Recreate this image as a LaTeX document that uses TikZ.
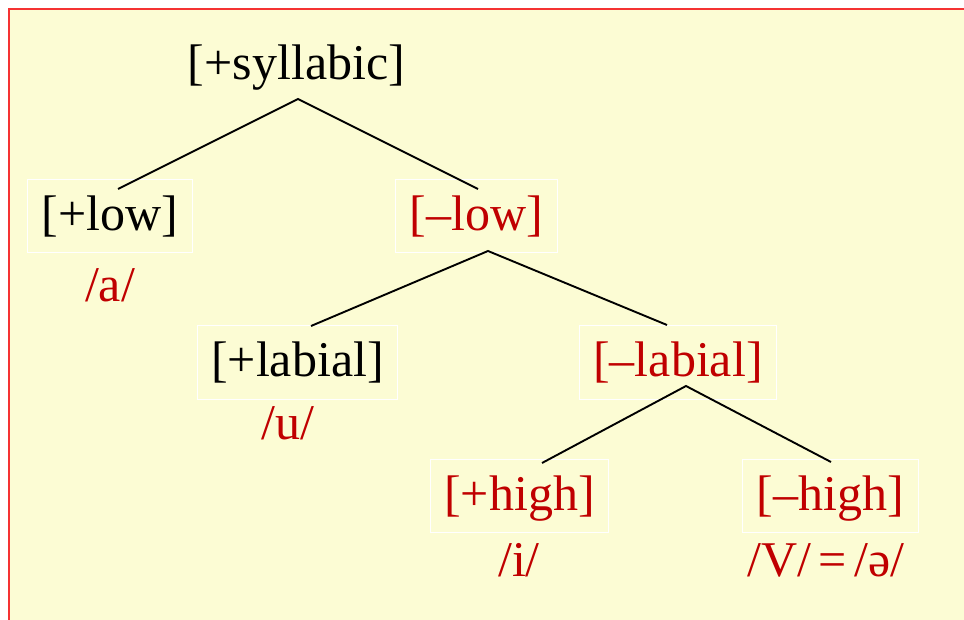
\documentclass[tikz,border=0pt]{standalone}
\usepackage{fontspec}
\setmainfont{Liberation Serif}
\definecolor{bgyellow}{HTML}{FCFCD4}
\definecolor{framered}{HTML}{F53333}
\definecolor{txtred}{HTML}{C00000}
\begin{document}
\begin{tikzpicture}[x=1pt,y=-1pt,
  feat/.style={font=\fontsize{50}{60}\selectfont, inner xsep=14pt, inner ysep=0pt,
    text height=51pt, text depth=22pt, anchor=base},
  boxed/.style={feat, draw=white, line width=1pt},
  seg/.style={font=\fontsize{50}{60}\selectfont, text=txtred, inner sep=0pt, anchor=base},
  branch/.style={draw=black, line width=1.9pt}]
\useasboundingbox (0,0) rectangle (964,620);
\clip (0,0) rectangle (964,620);
\fill[bgyellow] (9,9) rectangle (980,640);
\draw[framered, line width=2pt] (9,640) -- (9,9) -- (980,9);

% nodes
\node[feat] (syl) at (296.5,80) {[+syllabic]};
\node[boxed] (plow) at (110,231) {[+low]};
\node[boxed, text=txtred] (mlow) at (476.5,231) {[–low]};
\node[boxed] (plab) at (297.5,377) {[+labial]};
\node[boxed, text=txtred] (mlab) at (678,377) {[–labial]};
\node[boxed, text=txtred] (phigh) at (519.5,510) {[+high]};
\node[boxed, text=txtred] (mhigh) at (830.5,510) {[–high]};

% segments
\node[seg] (a) at (110,302) {/a/};
\node[seg] (u) at (288,439) {/u/};
\node[seg] (i) at (519,576) {/i/};
\node[seg] (schwa) at (826,576) {/V/\kern0.15em=\kern0.15em/ə/};

% branch points
\coordinate (s0) at (298,99);
\coordinate (s1) at (118,189);
\coordinate (s2) at (478,189);
\coordinate (l0) at (488,251);
\coordinate (l1) at (311,326);
\coordinate (l2) at (667,325);
\coordinate (b0) at (686,386);
\coordinate (b1) at (542,463);
\coordinate (b2) at (831,462);

\draw[branch] (s1) -- (s0) -- (s2);
\draw[branch] (l1) -- (l0) -- (l2);
\draw[branch] (b1) -- (b0) -- (b2);
\end{tikzpicture}
\end{document}
